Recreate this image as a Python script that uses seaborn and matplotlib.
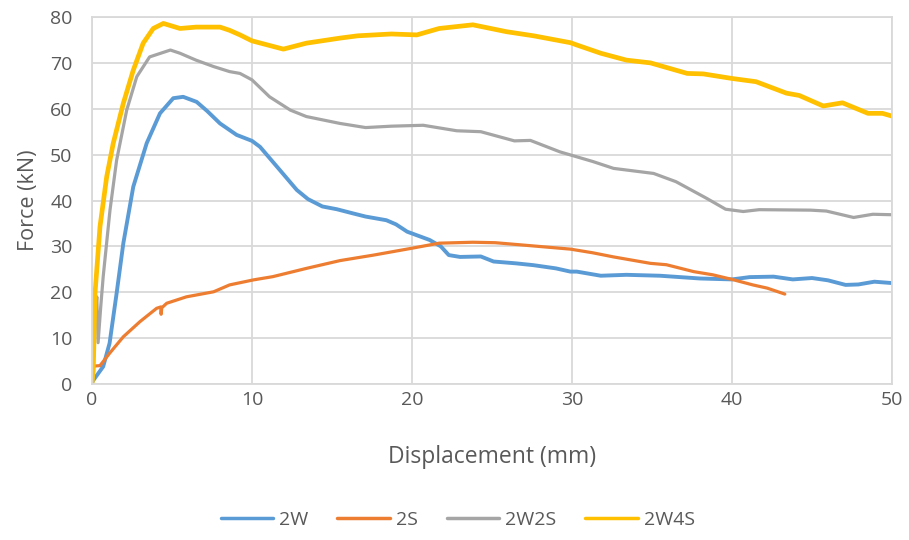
import matplotlib
matplotlib.use("Agg")
import matplotlib.pyplot as plt
import seaborn as sns
import pandas as pd

# Force–displacement curves for the four specimen configurations
x_2w = [0.0, 0.08, 0.7, 1.1, 1.54, 1.96, 2.58, 3.42, 4.25, 5.08, 5.7, 6.54, 7.2, 8.0,
        9.04, 10.0, 10.5, 11.75, 12.8, 13.5, 14.4, 15.3, 16.3, 17.1, 18.4, 19.0, 19.7,
        21.1, 21.8, 22.3, 23.0, 24.3, 25.1, 26.5, 27.6, 29.0, 29.9, 30.3, 31.8, 33.4,
        35.5, 38.0, 40.0, 41.1, 42.6, 43.8, 45.0, 46.0, 47.1, 47.9, 48.9, 50.0]
y_2w = [0.3, 0.8, 3.8, 8.9, 19.8, 30.7, 43.0, 52.5, 59.0, 62.3, 62.6, 61.5, 59.5, 56.8,
        54.3, 53.0, 51.7, 46.6, 42.3, 40.3, 38.7, 38.1, 37.2, 36.5, 35.7, 34.8, 33.2,
        31.4, 30.0, 28.1, 27.7, 27.8, 26.7, 26.3, 25.9, 25.2, 24.5, 24.5, 23.6, 23.8,
        23.6, 23.0, 22.8, 23.3, 23.4, 22.8, 23.1, 22.6, 21.6, 21.7, 22.3, 22.0]

x_2s = [0.0, 0.08, 0.5, 1.1, 1.96, 3.0, 4.04, 4.3, 4.32, 4.36, 4.67, 5.9, 7.6, 8.6,
        10.1, 11.3, 13.4, 15.5, 17.6, 20.0, 21.7, 23.8, 25.2, 26.9, 29.9, 31.3, 32.6,
        34.9, 35.9, 37.6, 38.8, 40.0, 41.3, 42.2, 43.3]
y_2s = [3.8, 3.9, 4.0, 6.7, 10.3, 13.6, 16.5, 16.8, 15.2, 16.6, 17.6, 19.0, 20.1, 21.6,
        22.7, 23.4, 25.2, 26.9, 28.1, 29.6, 30.7, 30.9, 30.8, 30.3, 29.4, 28.6, 27.7,
        26.3, 26.0, 24.5, 23.8, 22.8, 21.6, 20.9, 19.6]

x_2w2s = [0.15, 0.3, 0.38, 0.55, 0.7, 1.125, 1.54, 2.17, 2.8, 3.6, 4.9, 5.5, 6.5, 7.6,
          8.6, 9.25, 10.0, 11.1, 12.4, 13.4, 15.5, 17.1, 18.7, 20.7, 22.8, 24.3, 26.4,
          27.4, 29.25, 31.3, 32.6, 35.1, 36.5, 38.4, 39.6, 40.7, 41.7, 44.9, 45.9,
          47.6, 48.8, 50.0]
y_2w2s = [13.0, 19.0, 9.0, 17.0, 23.4, 37.9, 48.8, 59.7, 67.0, 71.3, 72.8, 72.1, 70.6,
          69.2, 68.1, 67.7, 66.3, 62.6, 59.7, 58.3, 56.8, 55.9, 56.2, 56.4, 55.2, 55.0,
          53.0, 53.1, 50.6, 48.5, 47.0, 45.9, 44.1, 40.5, 38.1, 37.6, 38.0, 37.9, 37.7,
          36.3, 37.0, 36.9]

x_2w4s = [0.0, 0.08, 0.19, 0.5, 0.92, 1.33, 1.96, 2.58, 3.2, 3.83, 4.46, 5.5, 6.5, 8.0,
          8.6, 9.25, 10.0, 11.96, 13.4, 15.5, 16.6, 18.7, 20.3, 21.7, 23.8, 25.9, 27.6,
          29.9, 30.3, 31.8, 33.4, 34.9, 37.2, 38.2, 40.0, 41.5, 43.4, 44.2, 45.7, 46.9,
          48.5, 49.4, 50.0]
y_2w4s = [0.0, 3.0, 19.8, 34.3, 45.2, 52.5, 61.2, 68.4, 74.3, 77.5, 78.6, 77.5, 77.8,
          77.8, 77.1, 76.1, 74.8, 73.0, 74.3, 75.4, 75.9, 76.3, 76.1, 77.5, 78.3, 76.8,
          75.9, 74.4, 73.9, 72.1, 70.6, 70.0, 67.7, 67.6, 66.6, 65.9, 63.4, 62.9, 60.6,
          61.3, 59.0, 59.0, 58.4]

series = ["2W", "2S", "2W2S", "2W4S"]
colors = ["#5B9BD5", "#ED7D31", "#A5A5A5", "#FFC000"]
widths = [2.8, 2.3, 2.3, 3.4]

frames = []
for name, xs, ys in zip(series,
                        [x_2w, x_2s, x_2w2s, x_2w4s],
                        [y_2w, y_2s, y_2w2s, y_2w4s]):
    frames.append(pd.DataFrame({"Displacement": xs, "Force": ys, "Specimen": name}))
data = pd.concat(frames, ignore_index=True)

sns.set_theme(style="white")
plt.rcParams["font.family"] = ["Open Sans", "DejaVu Sans"]

fig = plt.figure(figsize=(9.09, 5.4), dpi=100)
ax = fig.add_axes([0.1012, 0.2889, 0.8801, 0.6796])

for name, col, lw in zip(series, colors, widths):
    sub = data[data["Specimen"] == name]
    sns.lineplot(data=sub, x="Displacement", y="Force", ax=ax, color=col,
                 linewidth=lw, sort=False, estimator=None, label=name,
                 solid_capstyle="round", solid_joinstyle="round")

ax.set_xlim(0, 50)
ax.set_ylim(0, 80)
ax.set_xticks(range(0, 51, 10))
ax.set_yticks(range(0, 81, 10))
ax.grid(True, color="#D9D9D9", linewidth=1.3)
ax.set_axisbelow(True)
for sp in ax.spines.values():
    sp.set_color("#D9D9D9")
    sp.set_linewidth(1.3)
ax.tick_params(axis="both", length=0, labelsize=14, labelcolor="#595959")
ax.tick_params(axis="x", pad=5)
ax.tick_params(axis="y", pad=14)

ax.set_xlabel("Displacement (mm)", fontsize=16.5, color="#595959")
ax.xaxis.label.set_verticalalignment("center")
ax.xaxis.set_label_coords(0.5, -0.199)
ax.set_ylabel("Force (kN)", fontsize=15.5, color="#595959")
ax.yaxis.label.set_verticalalignment("center")
ax.yaxis.set_label_coords(-0.0795, 0.5)

leg = ax.legend(loc="center", bbox_to_anchor=(0.457, -0.3706), ncol=4,
                frameon=False, fontsize=14, handlelength=2.7, handletextpad=0.3,
                columnspacing=1.5)
for line in leg.get_lines():
    line.set_linewidth(2.5)
for t in leg.get_texts():
    t.set_color("#595959")

fig.savefig("out.png", dpi=100)
